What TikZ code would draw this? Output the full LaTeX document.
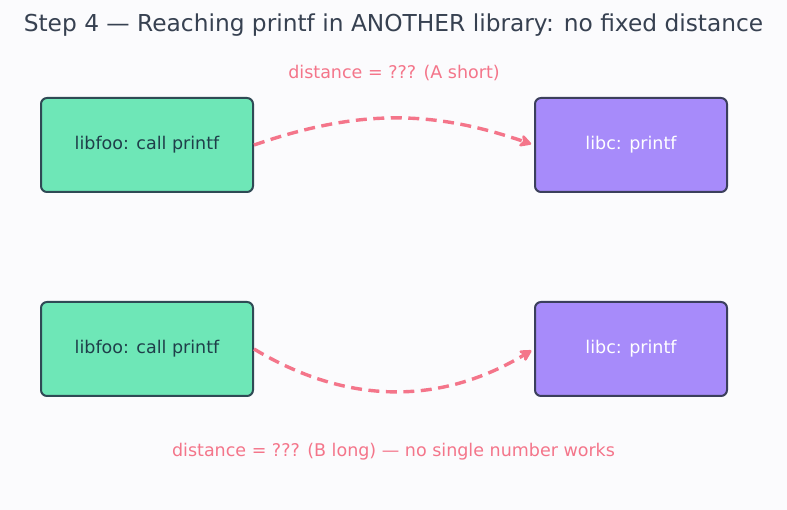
\documentclass[tikz,border=0pt]{standalone}
\usepackage{fontspec}
\setmainfont{DejaVu Sans}
\usetikzlibrary{arrows.meta}
\definecolor{bg}{HTML}{FBFBFD}
\definecolor{titlec}{HTML}{374151}
\definecolor{greenf}{HTML}{6EE7B7}
\definecolor{greens}{HTML}{2F4A55}
\definecolor{purplef}{HTML}{A78BFA}
\definecolor{purples}{HTML}{3B3F5C}
\definecolor{pinkc}{HTML}{F4758A}
\definecolor{gtext}{HTML}{1F3F4A}
\tikzset{
  callbox/.style={draw=greens, fill=greenf, line width=2pt, rounded corners=6pt, minimum width=212pt, minimum height=94pt, inner sep=0pt, text=gtext, font=\fontsize{17.5}{20}\selectfont},
  libcbox/.style={draw=purples, fill=purplef, line width=2pt, rounded corners=6pt, minimum width=192pt, minimum height=94pt, inner sep=0pt, text=white, font=\fontsize{17.5}{20}\selectfont},
  jump/.style={draw=pinkc, line width=3.4pt, dash pattern=on 11pt off 6.5pt, -{Stealth[length=14pt,width=15pt,inset=4pt,round]}, shorten >=3pt},
  note/.style={text=pinkc, font=\fontsize{17.5}{20}\selectfont, inner sep=0pt},
}
\begin{document}
\begin{tikzpicture}[x=1pt,y=-1pt]
\fill[bg] (0,0) rectangle (787,510);
\useasboundingbox (0,0) rectangle (787,510);
\node[text=titlec, font=\fontsize{23.3}{27}\selectfont, inner sep=0pt] (title) at (393.5,25) {Step 4 — Reaching printf in ANOTHER library: no fixed distance};
\node[note] (shortlbl) at (394,73) {distance = ??? (A short)};
\node[callbox] (fooA) at (147,145) {libfoo: call printf};
\node[libcbox] (libcA) at (631,145) {libc: printf};
\node[callbox] (fooB) at (147,349) {libfoo: call printf};
\node[libcbox] (libcB) at (631,349) {libc: printf};
\node[note] (longlbl) at (393.5,452) {distance = ??? (B long) — no single number works};
\draw[jump] (fooA.east) to[out=19,in=161] (libcA.west);
\draw[jump] (fooB.east) to[out=-31,in=-149] (libcB.west);
\end{tikzpicture}
\end{document}
